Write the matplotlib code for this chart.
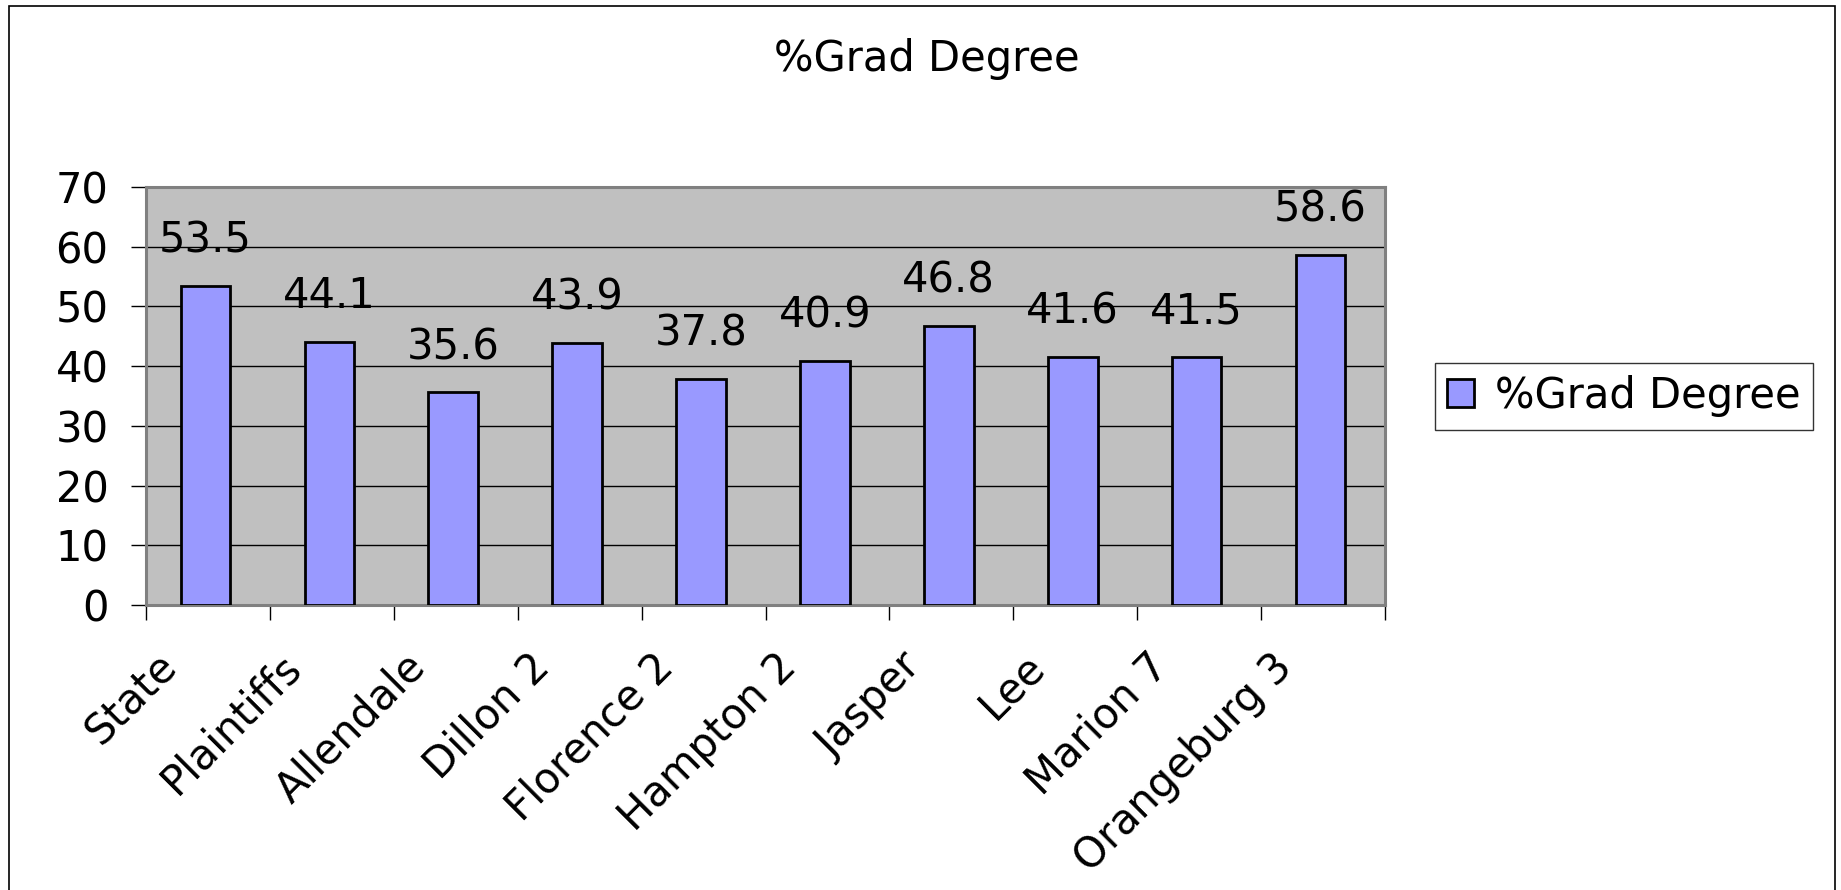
import matplotlib

matplotlib.use('Agg')

from matplotlib import pyplot as plt
from matplotlib import transforms
from matplotlib.patches import Rectangle
import numpy as np

plt.rcParams['font.family'] = ['DejaVu Sans']

## data
categories = ['State', 'Plaintiffs', 'Allendale', 'Dillon 2', 'Florence 2',
              'Hampton 2', 'Jasper', 'Lee', 'Marion 7', 'Orangeburg 3']
grad_degree = [53.5, 44.1, 35.6, 43.9, 37.8, 40.9, 46.8, 41.6, 41.5, 58.6]
series_name = '%Grad Degree'
y_ticks = [0, 10, 20, 30, 40, 50, 60, 70]

FS = 30


def main():
  fig = plt.figure(figsize=(18.41, 8.90), dpi=100)
  fig.patch.set_facecolor('white')

  # chart border (Excel-like frame)
  fig.patches.append(Rectangle((9 / 1841, -0.05), (1835 - 9) / 1841, 1.05 - 6 / 890,
                               transform=fig.transFigure, fill=False,
                               edgecolor='black', linewidth=1.2))

  ax = fig.add_axes([146 / 1841, 285 / 890, (1385 - 146) / 1841, (703 - 285) / 890])
  ax.set_facecolor('#C0C0C0')

  x = np.arange(len(categories))
  bars = ax.bar(x - 0.02, grad_degree, width=0.4, color='#9999FF', edgecolor='black',
                linewidth=2, label=series_name, zorder=3)

  for xi, v in zip(x, grad_degree):
    ax.annotate(str(v), (xi - 0.02, v), xytext=(0, 24), textcoords='offset points',
                ha='center', va='baseline', fontsize=FS, zorder=4)

  ax.set_xlim(-0.5, len(categories) - 0.5)
  ax.set_ylim(0, 70)
  ax.set_yticks(y_ticks)
  ax.yaxis.grid(True, color='black', linewidth=1)
  ax.set_axisbelow(True)

  # ticks at category boundaries, labels at centres
  ax.set_xticks(np.arange(-0.5, len(categories), 1))
  ax.set_xticklabels([])
  ax.set_xticks(x, minor=True)
  ax.set_xticklabels(categories, minor=True, rotation=45, ha='right', va='top',
                     rotation_mode='anchor', fontsize=FS)
  ax.tick_params(axis='x', which='major', direction='out', length=11, width=1, color='black')
  ax.tick_params(axis='x', which='minor', length=0, pad=29)
  ax.tick_params(axis='y', direction='out', length=11, width=1, color='black',
                 labelsize=FS, pad=16)
  offset = transforms.ScaledTranslation(-0.52, 0, fig.dpi_scale_trans)
  for lbl in ax.get_xticklabels(minor=True):
    lbl.set_transform(lbl.get_transform() + offset)

  for side in ['top', 'right', 'left', 'bottom']:
    ax.spines[side].set_color('#808080')
    ax.spines[side].set_linewidth(2.2)

  fig.text(927 / 1841, 1 - 71 / 890, '%Grad Degree', ha='center', va='baseline', fontsize=FS)

  legend = fig.legend(handles=[bars], labels=[series_name], loc='center',
                      bbox_to_anchor=(1624 / 1841, 1 - 396 / 890), fontsize=FS,
                      frameon=True, fancybox=False, handlelength=0.65, handleheight=0.65,
                      handletextpad=0.5, borderpad=0.3, borderaxespad=0)
  legend.get_frame().set_edgecolor('black')
  legend.get_frame().set_linewidth(1)

  fig.savefig('out.png', dpi=100)


if __name__ == '__main__':
  main()
